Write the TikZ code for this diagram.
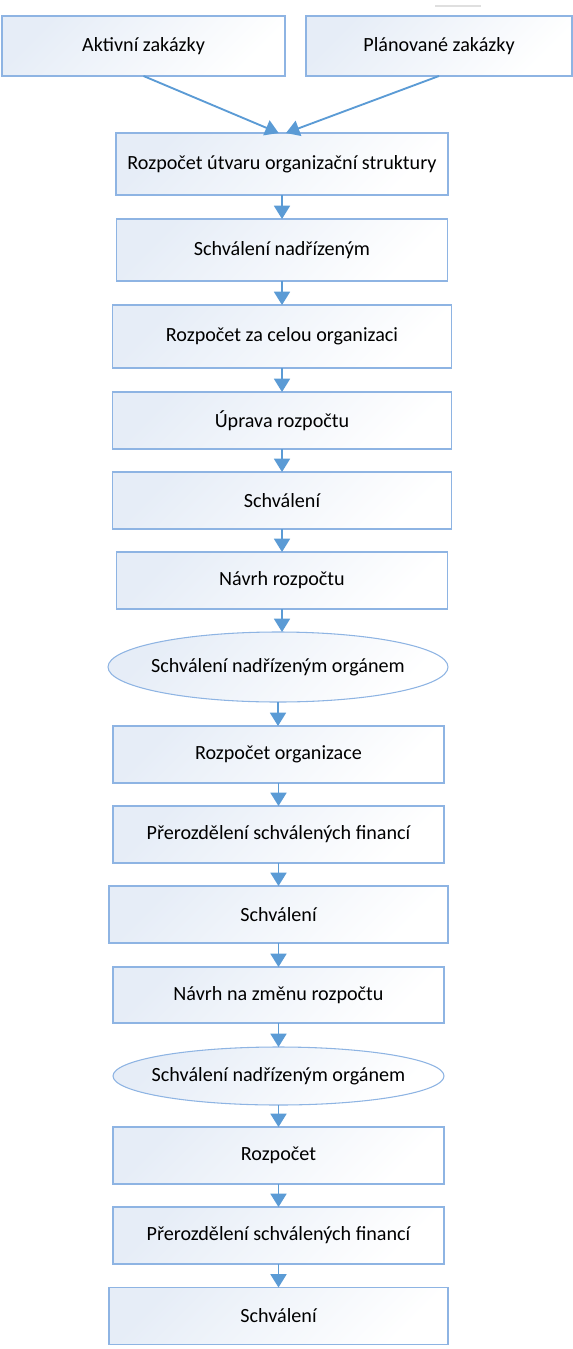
\documentclass[tikz,border=0pt]{standalone}
\usepackage{fontspec}
\setmainfont{Carlito}
\usetikzlibrary{shapes.geometric,arrows.meta}
\definecolor{BoxLine}{HTML}{8EB4E3}
\definecolor{BoxFill}{HTML}{E6EDF7}
\definecolor{ArrowBlue}{HTML}{5B9BD5}

\begin{document}
\begin{tikzpicture}[x=0.75pt,y=-0.75pt,
  krok/.style={draw=BoxLine, line width=0.8pt, top color=BoxFill,
    bottom color=white, shading angle=45, inner sep=0pt, outer sep=0pt,
    font=\fontsize{15.1}{18}\selectfont},
  organ/.style={krok, ellipse},
  sipka/.style={draw=ArrowBlue, line width=1.4pt, -{Triangle[width=12pt,length=10pt]}}]

\useasboundingbox (0,0) rectangle (573,1349);

% drobna cara nahore
\draw[gray!25, line width=1.2pt] (435,6) -- (481,6);

% obdelniky: nazev/x/y/sirka/vyska/text
\foreach \nazev/\x/\y/\w/\h/\popis in {%
    aktivni/143.5/46/283/60/Aktivní zakázky,%
    planovane/439/46/266/60/Plánované zakázky,%
    rozpUtvaru/282/164/332/62/Rozpočet útvaru organizační struktury,%
    schvNadr/282/250/331/62/Schválení nadřízeným,%
    rozpCela/282/336.5/339/63/Rozpočet za celou organizaci,%
    uprava/282/420.5/339/57/Úprava rozpočtu,%
    schvA/282/500.5/339/57/Schválení,%
    navrh/282/580.5/331/57/Návrh rozpočtu,%
    rozpOrg/278.5/754.5/331/57/Rozpočet organizace,%
    prerozdA/278.5/834.5/331/57/Přerozdělení schválených financí,%
    schvB/278.5/914.5/339/57/Schválení,%
    navrhZmena/278.5/995/331/56/Návrh na změnu rozpočtu,%
    rozpocet/278.5/1155.5/331/57/Rozpočet,%
    prerozdB/278.5/1235.5/331/57/Přerozdělení schválených financí,%
    schvC/278.5/1316/339/57/Schválení%
}{
    \node[krok, minimum width=\w*0.75pt, minimum height=\h*0.75pt] (\nazev) at (\x,\y) {\popis};
}

% elipsy
\foreach \nazev/\x/\y/\w/\h in {organA/278/667/340/70, organB/278.5/1076/331/58}{
    \node[organ, minimum width=\w*0.75pt, minimum height=\h*0.75pt] (\nazev) at (\x,\y)
        {\makebox[0pt]{Schválení nadřízeným orgánem}};
}

% sipky
\draw[sipka] (aktivni.south) -- ([xshift=-2.5pt]rozpUtvaru.north);
\draw[sipka] (planovane.south) -- ([xshift=3pt]rozpUtvaru.north);
\foreach \a/\b in {rozpUtvaru/schvNadr, schvNadr/rozpCela, rozpCela/uprava,
    uprava/schvA, schvA/navrh, navrh/organA, organA/rozpOrg, rozpOrg/prerozdA,
    prerozdA/schvB, schvB/navrhZmena, navrhZmena/organB, organB/rozpocet,
    rozpocet/prerozdB, prerozdB/schvC}{
    \draw[sipka] (\a.south) -- (\a.south |- \b.north);
}
\end{tikzpicture}
\end{document}
